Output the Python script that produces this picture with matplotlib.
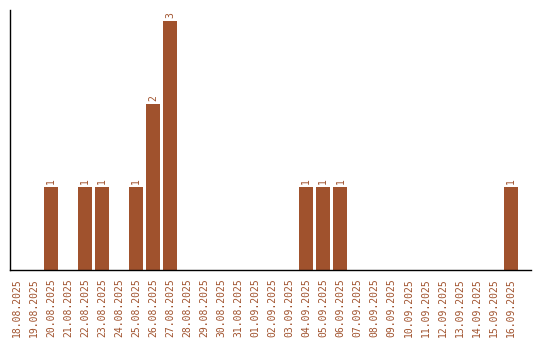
import matplotlib
matplotlib.use("Agg")
import matplotlib.pyplot as plt

dates = ["18.08.2025", "19.08.2025", "20.08.2025", "21.08.2025", "22.08.2025",
         "23.08.2025", "24.08.2025", "25.08.2025", "26.08.2025", "27.08.2025",
         "28.08.2025", "29.08.2025", "30.08.2025", "31.08.2025", "01.09.2025",
         "02.09.2025", "03.09.2025", "04.09.2025", "05.09.2025", "06.09.2025",
         "07.09.2025", "08.09.2025", "09.09.2025", "10.09.2025", "11.09.2025",
         "12.09.2025", "13.09.2025", "14.09.2025", "15.09.2025", "16.09.2025"]
counts = [0, 0, 1, 0, 1, 1, 0, 1, 2, 3,
          0, 0, 0, 0, 0, 0, 0, 1, 1, 1,
          0, 0, 0, 0, 0, 0, 0, 0, 0, 1]

color = "#A0522D"
fig = plt.figure(figsize=(5.4, 3.4), dpi=100)
ax = fig.add_axes([10/540, 70/340, 521/540, 260/340])
x = list(range(len(dates)))
ax.bar(x, counts, width=0.82, color=color)
for xi, v in zip(x, counts):
    if v > 0:
        ax.text(xi, v + 0.03, str(v), rotation=90, ha="center", va="bottom",
                fontsize=7, family="DejaVu Sans Mono", color=color)
ax.set_xlim(-0.41, 30.2)
ax.set_ylim(0, 3.13)
ax.set_xticks(x)
ax.set_xticklabels(dates, rotation=90, fontsize=7, family="DejaVu Sans Mono", color=color)
ax.tick_params(axis="x", length=0, pad=6)
ax.set_yticks([])
for s in ["top", "right"]:
    ax.spines[s].set_visible(False)
ax.spines["left"].set_linewidth(1.0)
ax.spines["bottom"].set_linewidth(1.0)
fig.savefig("out.png", dpi=100)
